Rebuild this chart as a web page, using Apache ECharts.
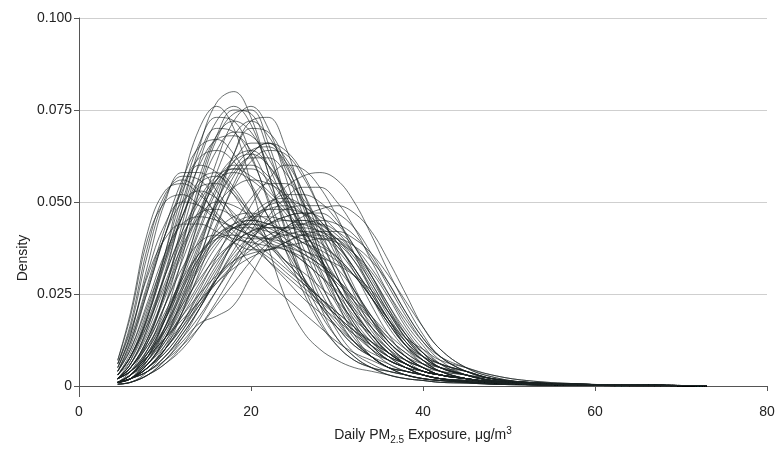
<!DOCTYPE html>
<html>
<head>
<meta charset="utf-8">
<script src="https://cdn.jsdelivr.net/npm/echarts@6/dist/echarts.min.js"></script>
<style>
  html,body{margin:0;padding:0;background:#fff;}
  #chart{width:780px;height:452px;}
</style>
</head>
<body>
<div id="chart"></div>
<script>
// PM2.5 exposure (x grid, ug/m3) at which each density curve was read
const xs = [4.5,6,8,10,12,14,16,18,20,22,24,26,28,30,32,34,36,38,40,42,45,48,52,58,65,73]

// tall narrow peaks around 17-22
const tallPeaks = [
  [0.002,0.006,0.016,0.030,0.048,0.065,0.077,0.080,0.073,0.058,0.042,0.028,0.018,0.011,0.007,0.005,0.003,0.002,0.0015,0.001,0.0008,0.0005,0.0003,0.0002,0.0001,0.0001],
  [0.001,0.003,0.010,0.022,0.038,0.055,0.068,0.075,0.074,0.064,0.050,0.036,0.024,0.015,0.009,0.006,0.004,0.003,0.002,0.0015,0.001,0.0006,0.0004,0.0002,0.0001,0.0001],
  [0.001,0.002,0.007,0.016,0.030,0.046,0.061,0.072,0.076,0.070,0.057,0.042,0.029,0.019,0.012,0.008,0.005,0.003,0.002,0.0015,0.001,0.0006,0.0004,0.0002,0.0001,0.0001],
  [0.003,0.009,0.021,0.036,0.052,0.066,0.073,0.072,0.063,0.050,0.037,0.026,0.017,0.011,0.007,0.005,0.004,0.003,0.002,0.0015,0.001,0.0006,0.0004,0.0002,0.0001,0.0001],
  [0.002,0.005,0.013,0.026,0.042,0.057,0.068,0.072,0.069,0.060,0.049,0.038,0.028,0.020,0.013,0.008,0.005,0.003,0.002,0.0015,0.001,0.0006,0.0004,0.0002,0.0001,0.0001],
  [0.001,0.002,0.006,0.013,0.024,0.037,0.051,0.063,0.070,0.069,0.061,0.049,0.036,0.025,0.016,0.010,0.006,0.004,0.003,0.002,0.0012,0.0007,0.0004,0.0002,0.0001,0.0001],
  [0.004,0.010,0.022,0.035,0.048,0.060,0.067,0.068,0.064,0.055,0.045,0.035,0.026,0.018,0.012,0.008,0.005,0.004,0.003,0.002,0.0012,0.0007,0.0004,0.0002,0.0001,0.0001],
  [0.001,0.002,0.005,0.011,0.020,0.031,0.043,0.055,0.063,0.066,0.062,0.053,0.041,0.030,0.020,0.013,0.008,0.005,0.003,0.002,0.0012,0.0007,0.0004,0.0002,0.0001,0.0001],
  [0.001,0.002,0.008,0.019,0.035,0.053,0.067,0.074,0.075,0.066,0.051,0.035,0.022,0.013,0.008,0.005,0.003,0.002,0.0015,0.001,0.0008,0.0005,0.0003,0.0002,0.0001,0.0001],
  [0.004,0.012,0.026,0.041,0.054,0.062,0.064,0.061,0.054,0.046,0.038,0.030,0.023,0.017,0.012,0.008,0.005,0.004,0.003,0.002,0.0012,0.0007,0.0004,0.0002,0.0001,0.0001],
  [0.001,0.004,0.012,0.026,0.044,0.061,0.072,0.076,0.071,0.058,0.043,0.030,0.020,0.013,0.008,0.005,0.004,0.003,0.002,0.0015,0.001,0.0006,0.0004,0.0002,0.0001,0.0001],
  [0.001,0.003,0.008,0.018,0.031,0.045,0.058,0.068,0.072,0.068,0.059,0.047,0.035,0.025,0.017,0.011,0.007,0.005,0.003,0.002,0.0012,0.0007,0.0004,0.0002,0.0001,0.0001],
  [0.003,0.008,0.019,0.034,0.050,0.063,0.070,0.069,0.062,0.051,0.040,0.030,0.022,0.016,0.011,0.008,0.006,0.004,0.003,0.002,0.0012,0.0007,0.0004,0.0002,0.0001,0.0001],
  [0.0005,0.001,0.004,0.010,0.020,0.034,0.049,0.063,0.072,0.073,0.065,0.051,0.036,0.023,0.014,0.008,0.005,0.003,0.002,0.0015,0.001,0.0006,0.0004,0.0002,0.0001,0.0001],
  [0.002,0.005,0.013,0.025,0.039,0.053,0.064,0.069,0.068,0.062,0.052,0.041,0.031,0.022,0.015,0.010,0.007,0.005,0.004,0.003,0.002,0.001,0.0006,0.0003,0.0001,0.0001],
  [0.005,0.013,0.028,0.043,0.056,0.065,0.067,0.063,0.055,0.046,0.037,0.029,0.022,0.016,0.011,0.008,0.005,0.004,0.003,0.002,0.0012,0.0007,0.0004,0.0002,0.0001,0.0001],
  [0.002,0.007,0.019,0.036,0.055,0.070,0.076,0.070,0.055,0.038,0.024,0.015,0.010,0.007,0.005,0.004,0.003,0.002,0.0015,0.001,0.0008,0.0005,0.0003,0.0002,0.0001,0.0001]
]

// early peaks around 12-15, steep left side
const earlyPeaks = [
  [0.006,0.016,0.036,0.051,0.057,0.056,0.051,0.045,0.040,0.036,0.032,0.028,0.024,0.020,0.016,0.012,0.008,0.006,0.004,0.003,0.002,0.0012,0.0007,0.0004,0.0002,0.0001],
  [0.004,0.011,0.026,0.041,0.053,0.060,0.058,0.052,0.045,0.039,0.034,0.029,0.024,0.019,0.014,0.010,0.007,0.005,0.003,0.002,0.0015,0.001,0.0006,0.0003,0.0002,0.0001],
  [0.003,0.008,0.020,0.034,0.046,0.054,0.055,0.052,0.047,0.042,0.038,0.034,0.030,0.025,0.019,0.013,0.009,0.006,0.004,0.003,0.002,0.001,0.0006,0.0003,0.0002,0.0001],
  [0.005,0.014,0.031,0.044,0.050,0.049,0.046,0.043,0.041,0.039,0.037,0.034,0.030,0.026,0.021,0.016,0.011,0.007,0.005,0.003,0.002,0.0012,0.0007,0.0004,0.0002,0.0001],
  [0.004,0.010,0.023,0.036,0.044,0.046,0.045,0.043,0.041,0.040,0.039,0.037,0.034,0.029,0.023,0.017,0.012,0.008,0.005,0.003,0.002,0.0012,0.0007,0.0004,0.0002,0.0001],
  [0.002,0.006,0.016,0.031,0.046,0.056,0.058,0.054,0.047,0.040,0.034,0.029,0.024,0.019,0.015,0.011,0.008,0.006,0.004,0.003,0.002,0.001,0.0006,0.0003,0.0002,0.0001],
  [0.007,0.019,0.040,0.050,0.052,0.049,0.045,0.041,0.038,0.035,0.031,0.027,0.023,0.019,0.015,0.012,0.009,0.007,0.005,0.004,0.003,0.002,0.001,0.0005,0.0002,0.0001],
  [0.003,0.007,0.017,0.030,0.041,0.047,0.048,0.046,0.043,0.040,0.038,0.036,0.033,0.029,0.024,0.018,0.012,0.008,0.005,0.003,0.002,0.0012,0.0007,0.0004,0.0002,0.0001],
  [0.005,0.014,0.033,0.050,0.058,0.058,0.053,0.046,0.040,0.034,0.029,0.024,0.020,0.016,0.012,0.009,0.007,0.005,0.004,0.003,0.002,0.0012,0.0007,0.0004,0.0002,0.0001],
  [0.004,0.012,0.027,0.041,0.050,0.053,0.051,0.047,0.042,0.038,0.034,0.031,0.027,0.023,0.018,0.014,0.010,0.007,0.005,0.003,0.002,0.0012,0.0007,0.0004,0.0002,0.0001],
  [0.006,0.015,0.030,0.040,0.044,0.044,0.042,0.040,0.039,0.038,0.037,0.035,0.032,0.028,0.023,0.018,0.013,0.009,0.006,0.004,0.003,0.002,0.001,0.0005,0.0002,0.0001],
  [0.003,0.008,0.019,0.033,0.046,0.055,0.057,0.053,0.046,0.039,0.033,0.028,0.024,0.020,0.016,0.012,0.009,0.006,0.004,0.003,0.002,0.001,0.0006,0.0003,0.0002,0.0001],
  [0.002,0.006,0.015,0.027,0.038,0.046,0.050,0.049,0.046,0.042,0.039,0.036,0.033,0.029,0.024,0.019,0.014,0.010,0.007,0.005,0.003,0.0015,0.0008,0.0004,0.0002,0.0001],
  [0.007,0.020,0.042,0.053,0.055,0.052,0.047,0.042,0.038,0.034,0.030,0.026,0.022,0.018,0.014,0.011,0.008,0.006,0.004,0.003,0.002,0.0012,0.0007,0.0004,0.0002,0.0001],
  [0.006,0.017,0.038,0.052,0.056,0.053,0.046,0.039,0.033,0.028,0.024,0.020,0.016,0.012,0.009,0.007,0.005,0.004,0.003,0.002,0.0015,0.001,0.0006,0.0003,0.0002,0.0001]
]

// broad plateau curves, 18-32
const broadCurves = [
  [0.001,0.003,0.008,0.015,0.024,0.033,0.040,0.044,0.046,0.046,0.045,0.044,0.042,0.039,0.034,0.027,0.019,0.012,0.007,0.004,0.002,0.001,0.0006,0.0003,0.0002,0.0001],
  [0.001,0.002,0.006,0.012,0.020,0.028,0.036,0.042,0.046,0.048,0.048,0.047,0.044,0.040,0.034,0.026,0.018,0.011,0.006,0.004,0.002,0.0012,0.0007,0.0004,0.0002,0.0001],
  [0.0005,0.001,0.003,0.007,0.012,0.017,0.019,0.022,0.030,0.038,0.043,0.045,0.044,0.041,0.036,0.029,0.021,0.014,0.009,0.005,0.003,0.0015,0.0008,0.0004,0.0002,0.0001],
  [0.001,0.003,0.007,0.013,0.021,0.030,0.038,0.043,0.045,0.044,0.042,0.041,0.040,0.039,0.036,0.031,0.024,0.016,0.010,0.006,0.003,0.0015,0.0008,0.0004,0.0002,0.0001],
  [0.002,0.005,0.011,0.019,0.028,0.036,0.041,0.043,0.043,0.042,0.041,0.040,0.038,0.035,0.030,0.024,0.017,0.011,0.007,0.004,0.002,0.0012,0.0007,0.0004,0.0002,0.0001],
  [0.002,0.005,0.012,0.022,0.032,0.039,0.041,0.039,0.037,0.037,0.039,0.041,0.041,0.038,0.032,0.024,0.016,0.010,0.006,0.004,0.002,0.0012,0.0007,0.0004,0.0002,0.0001],
  [0.001,0.002,0.005,0.010,0.017,0.025,0.033,0.040,0.045,0.049,0.050,0.049,0.045,0.039,0.031,0.022,0.014,0.008,0.005,0.003,0.002,0.001,0.0006,0.0003,0.0002,0.0001],
  [0.002,0.004,0.010,0.018,0.027,0.035,0.041,0.044,0.045,0.044,0.042,0.039,0.036,0.032,0.026,0.019,0.012,0.008,0.006,0.005,0.003,0.0015,0.0008,0.0004,0.0002,0.0001],
  [0.001,0.003,0.007,0.014,0.023,0.032,0.039,0.043,0.044,0.043,0.043,0.043,0.042,0.040,0.036,0.030,0.022,0.014,0.008,0.005,0.003,0.0015,0.0008,0.0004,0.0002,0.0001],
  [0.002,0.004,0.009,0.016,0.025,0.034,0.040,0.043,0.044,0.043,0.040,0.037,0.035,0.033,0.030,0.026,0.020,0.014,0.009,0.006,0.004,0.002,0.001,0.0005,0.0002,0.0001],
  [0.001,0.002,0.004,0.008,0.014,0.021,0.029,0.036,0.041,0.044,0.046,0.047,0.047,0.044,0.038,0.030,0.021,0.013,0.008,0.005,0.003,0.0015,0.0008,0.0004,0.0002,0.0001],
  [0.001,0.003,0.008,0.016,0.026,0.035,0.042,0.046,0.047,0.045,0.042,0.039,0.037,0.034,0.030,0.024,0.017,0.011,0.007,0.005,0.004,0.002,0.001,0.0005,0.0002,0.0001],
  [0.002,0.005,0.011,0.020,0.029,0.036,0.040,0.041,0.040,0.040,0.041,0.042,0.041,0.037,0.031,0.024,0.017,0.011,0.008,0.006,0.004,0.002,0.001,0.0005,0.0002,0.0001],
  [0.001,0.002,0.006,0.012,0.019,0.027,0.034,0.039,0.042,0.044,0.045,0.045,0.043,0.040,0.035,0.028,0.020,0.013,0.008,0.005,0.003,0.0015,0.0008,0.0004,0.0002,0.0001]
]

// late peaks, 24-30
const latePeaks = [
  [0.0005,0.001,0.003,0.006,0.011,0.018,0.026,0.034,0.042,0.049,0.054,0.057,0.058,0.056,0.050,0.041,0.031,0.022,0.014,0.008,0.004,0.002,0.001,0.0005,0.0002,0.0001],
  [0.001,0.002,0.004,0.008,0.014,0.021,0.029,0.037,0.044,0.049,0.052,0.052,0.050,0.045,0.038,0.030,0.022,0.015,0.009,0.005,0.003,0.0015,0.0008,0.0004,0.0002,0.0001],
  [0.0005,0.001,0.003,0.007,0.013,0.021,0.030,0.040,0.049,0.056,0.060,0.059,0.054,0.046,0.036,0.026,0.018,0.011,0.007,0.004,0.002,0.001,0.0006,0.0003,0.0002,0.0001],
  [0.001,0.002,0.005,0.010,0.016,0.022,0.028,0.033,0.037,0.040,0.042,0.044,0.045,0.044,0.041,0.035,0.027,0.019,0.012,0.007,0.003,0.0015,0.0008,0.0004,0.0002,0.0001],
  [0.002,0.004,0.008,0.013,0.019,0.025,0.030,0.034,0.036,0.037,0.038,0.039,0.040,0.040,0.038,0.034,0.028,0.020,0.013,0.008,0.004,0.002,0.001,0.0005,0.0002,0.0001],
  [0.001,0.002,0.005,0.009,0.015,0.022,0.029,0.035,0.040,0.044,0.046,0.047,0.046,0.042,0.036,0.028,0.020,0.013,0.009,0.006,0.004,0.002,0.001,0.0005,0.0002,0.0001],
  [0.001,0.002,0.005,0.010,0.017,0.026,0.035,0.044,0.051,0.055,0.055,0.051,0.044,0.035,0.026,0.018,0.012,0.008,0.005,0.003,0.002,0.001,0.0006,0.0003,0.0002,0.0001],
  [0.002,0.004,0.009,0.015,0.022,0.029,0.035,0.039,0.042,0.043,0.043,0.042,0.039,0.035,0.030,0.024,0.018,0.013,0.010,0.007,0.005,0.003,0.0015,0.0006,0.0002,0.0001],
  [0.001,0.002,0.004,0.008,0.013,0.019,0.026,0.033,0.040,0.045,0.048,0.049,0.049,0.047,0.043,0.036,0.028,0.020,0.013,0.008,0.004,0.002,0.001,0.0005,0.0002,0.0001],
  [0.001,0.002,0.005,0.009,0.015,0.023,0.031,0.039,0.046,0.050,0.051,0.049,0.045,0.039,0.032,0.025,0.018,0.012,0.008,0.005,0.003,0.0015,0.0008,0.0004,0.0002,0.0001],
  [0.001,0.003,0.006,0.011,0.017,0.023,0.029,0.034,0.038,0.041,0.043,0.044,0.044,0.042,0.038,0.032,0.025,0.018,0.012,0.008,0.005,0.003,0.0015,0.0006,0.0002,0.0001],
  [0.0005,0.001,0.003,0.006,0.010,0.016,0.023,0.031,0.039,0.046,0.051,0.054,0.054,0.050,0.043,0.034,0.025,0.017,0.011,0.006,0.003,0.0015,0.0008,0.0004,0.0002,0.0001],
  [0.002,0.004,0.008,0.013,0.018,0.023,0.028,0.032,0.035,0.037,0.039,0.041,0.042,0.042,0.040,0.036,0.030,0.023,0.016,0.010,0.005,0.0025,0.001,0.0005,0.0002,0.0001],
  [0.001,0.002,0.005,0.010,0.016,0.024,0.032,0.039,0.045,0.048,0.049,0.047,0.043,0.038,0.032,0.025,0.018,0.012,0.008,0.006,0.004,0.002,0.001,0.0005,0.0002,0.0001],
  [0.001,0.002,0.004,0.007,0.011,0.016,0.022,0.028,0.034,0.039,0.043,0.046,0.048,0.049,0.047,0.042,0.034,0.025,0.016,0.010,0.005,0.0025,0.001,0.0005,0.0002,0.0001]
]

// medium peaks around 20-23
const midPeaks = [
  [0.001,0.003,0.008,0.016,0.027,0.039,0.050,0.058,0.062,0.062,0.058,0.050,0.040,0.030,0.021,0.014,0.009,0.006,0.004,0.003,0.002,0.001,0.0006,0.0003,0.0002,0.0001],
  [0.002,0.005,0.012,0.022,0.034,0.046,0.056,0.062,0.064,0.060,0.052,0.042,0.032,0.023,0.016,0.011,0.007,0.005,0.003,0.002,0.0015,0.001,0.0006,0.0003,0.0002,0.0001],
  [0.001,0.002,0.006,0.013,0.022,0.033,0.044,0.054,0.061,0.064,0.063,0.057,0.048,0.037,0.027,0.018,0.011,0.007,0.004,0.003,0.002,0.001,0.0006,0.0003,0.0002,0.0001],
  [0.003,0.008,0.017,0.028,0.040,0.050,0.056,0.058,0.056,0.052,0.047,0.041,0.034,0.027,0.020,0.014,0.009,0.006,0.004,0.003,0.002,0.001,0.0006,0.0003,0.0002,0.0001],
  [0.002,0.004,0.010,0.019,0.030,0.042,0.053,0.061,0.066,0.066,0.060,0.050,0.038,0.027,0.018,0.012,0.008,0.005,0.003,0.002,0.0015,0.001,0.0006,0.0003,0.0002,0.0001],
  [0.001,0.003,0.009,0.018,0.029,0.040,0.049,0.054,0.056,0.055,0.052,0.047,0.041,0.034,0.026,0.019,0.013,0.009,0.006,0.004,0.002,0.0012,0.0007,0.0004,0.0002,0.0001],
  [0.001,0.003,0.009,0.018,0.030,0.043,0.054,0.061,0.063,0.060,0.053,0.044,0.034,0.025,0.017,0.011,0.007,0.005,0.003,0.002,0.0015,0.001,0.0006,0.0003,0.0002,0.0001],
  [0.002,0.005,0.013,0.024,0.036,0.047,0.055,0.059,0.059,0.056,0.050,0.043,0.035,0.027,0.020,0.014,0.009,0.006,0.004,0.003,0.002,0.001,0.0006,0.0003,0.0002,0.0001],
  [0.001,0.002,0.007,0.015,0.026,0.038,0.050,0.059,0.064,0.065,0.061,0.053,0.043,0.032,0.023,0.015,0.010,0.006,0.004,0.003,0.002,0.001,0.0006,0.0003,0.0002,0.0001],
  [0.002,0.006,0.014,0.025,0.037,0.048,0.056,0.060,0.060,0.057,0.051,0.043,0.035,0.027,0.020,0.014,0.009,0.006,0.004,0.003,0.002,0.001,0.0006,0.0003,0.0002,0.0001],
  [0.001,0.002,0.006,0.013,0.023,0.035,0.047,0.057,0.063,0.066,0.064,0.058,0.048,0.036,0.025,0.016,0.010,0.006,0.004,0.003,0.002,0.001,0.0006,0.0003,0.0002,0.0001],
  [0.003,0.008,0.018,0.030,0.042,0.051,0.057,0.059,0.057,0.053,0.048,0.042,0.036,0.029,0.022,0.016,0.011,0.007,0.005,0.003,0.002,0.0012,0.0007,0.0004,0.0002,0.0001]
]

const xTicks = [0,20,40,60,80]
const yTicks = [0,0.025,0.05,0.075,0.1]

const font = '"Liberation Sans Narrow", "Liberation Sans", sans-serif'
const allCurves = [...tallPeaks,...earlyPeaks,...broadCurves,...latePeaks,...midPeaks]

const series = allCurves.map(vals => ({
    type:"line",
    data:xs.map((x,i) => [x,vals[i]]),
    smooth:0.4,
    symbol:"none",
    silent:true,
    lineStyle:{color:"#1c2323",width:1,opacity:0.65}
}))

const chart = echarts.init(document.getElementById("chart"))
chart.setOption({
    animation:false,
    grid:{left:79,right:13,top:18,bottom:66},
    xAxis:{
        type:"value",min:xTicks[0],max:xTicks[xTicks.length-1],interval:20,
        offset:11,
        axisLine:{lineStyle:{color:"#555",width:1}},
        axisTick:{show:true,length:5,lineStyle:{color:"#555"}},
        axisLabel:{color:"#222",fontSize:14,fontFamily:font,margin:8},
        splitLine:{show:false},
        name:"Daily PM{sub|2.5} Exposure, μg/m{sup|3}",
        nameLocation:"middle",
        nameGap:29,
        nameTextStyle:{
            color:"#222",fontSize:14,fontFamily:font,
            rich:{
                sub:{fontSize:10,fontFamily:font,color:"#222",padding:[9,0,0,0]},
                sup:{fontSize:10,fontFamily:font,color:"#222",padding:[0,0,8,0]}
            }
        }
    },
    yAxis:{
        type:"value",min:yTicks[0],max:yTicks[yTicks.length-1],interval:0.025,
        axisLine:{show:true,lineStyle:{color:"#555",width:1}},
        axisTick:{show:true,length:5,lineStyle:{color:"#555"}},
        axisLabel:{
            color:"#222",fontSize:14,fontFamily:font,margin:7,
            formatter:v => v===0 ? "0" : v.toFixed(3)
        },
        splitLine:{show:true,lineStyle:{color:"#cfcfcf",width:1}}
    },
    graphic:[
        // y axis line continues down to the offset x axis
        {type:"line",shape:{x1:79.5,y1:386,x2:79.5,y2:397},style:{stroke:"#555",lineWidth:1}},
        {type:"text",x:23,y:258,rotation:Math.PI/2,
         style:{text:"Density",fill:"#222",font:"14px "+font,align:"center",verticalAlign:"middle"}}
    ],
    series:series
})
</script>
</body>
</html>
